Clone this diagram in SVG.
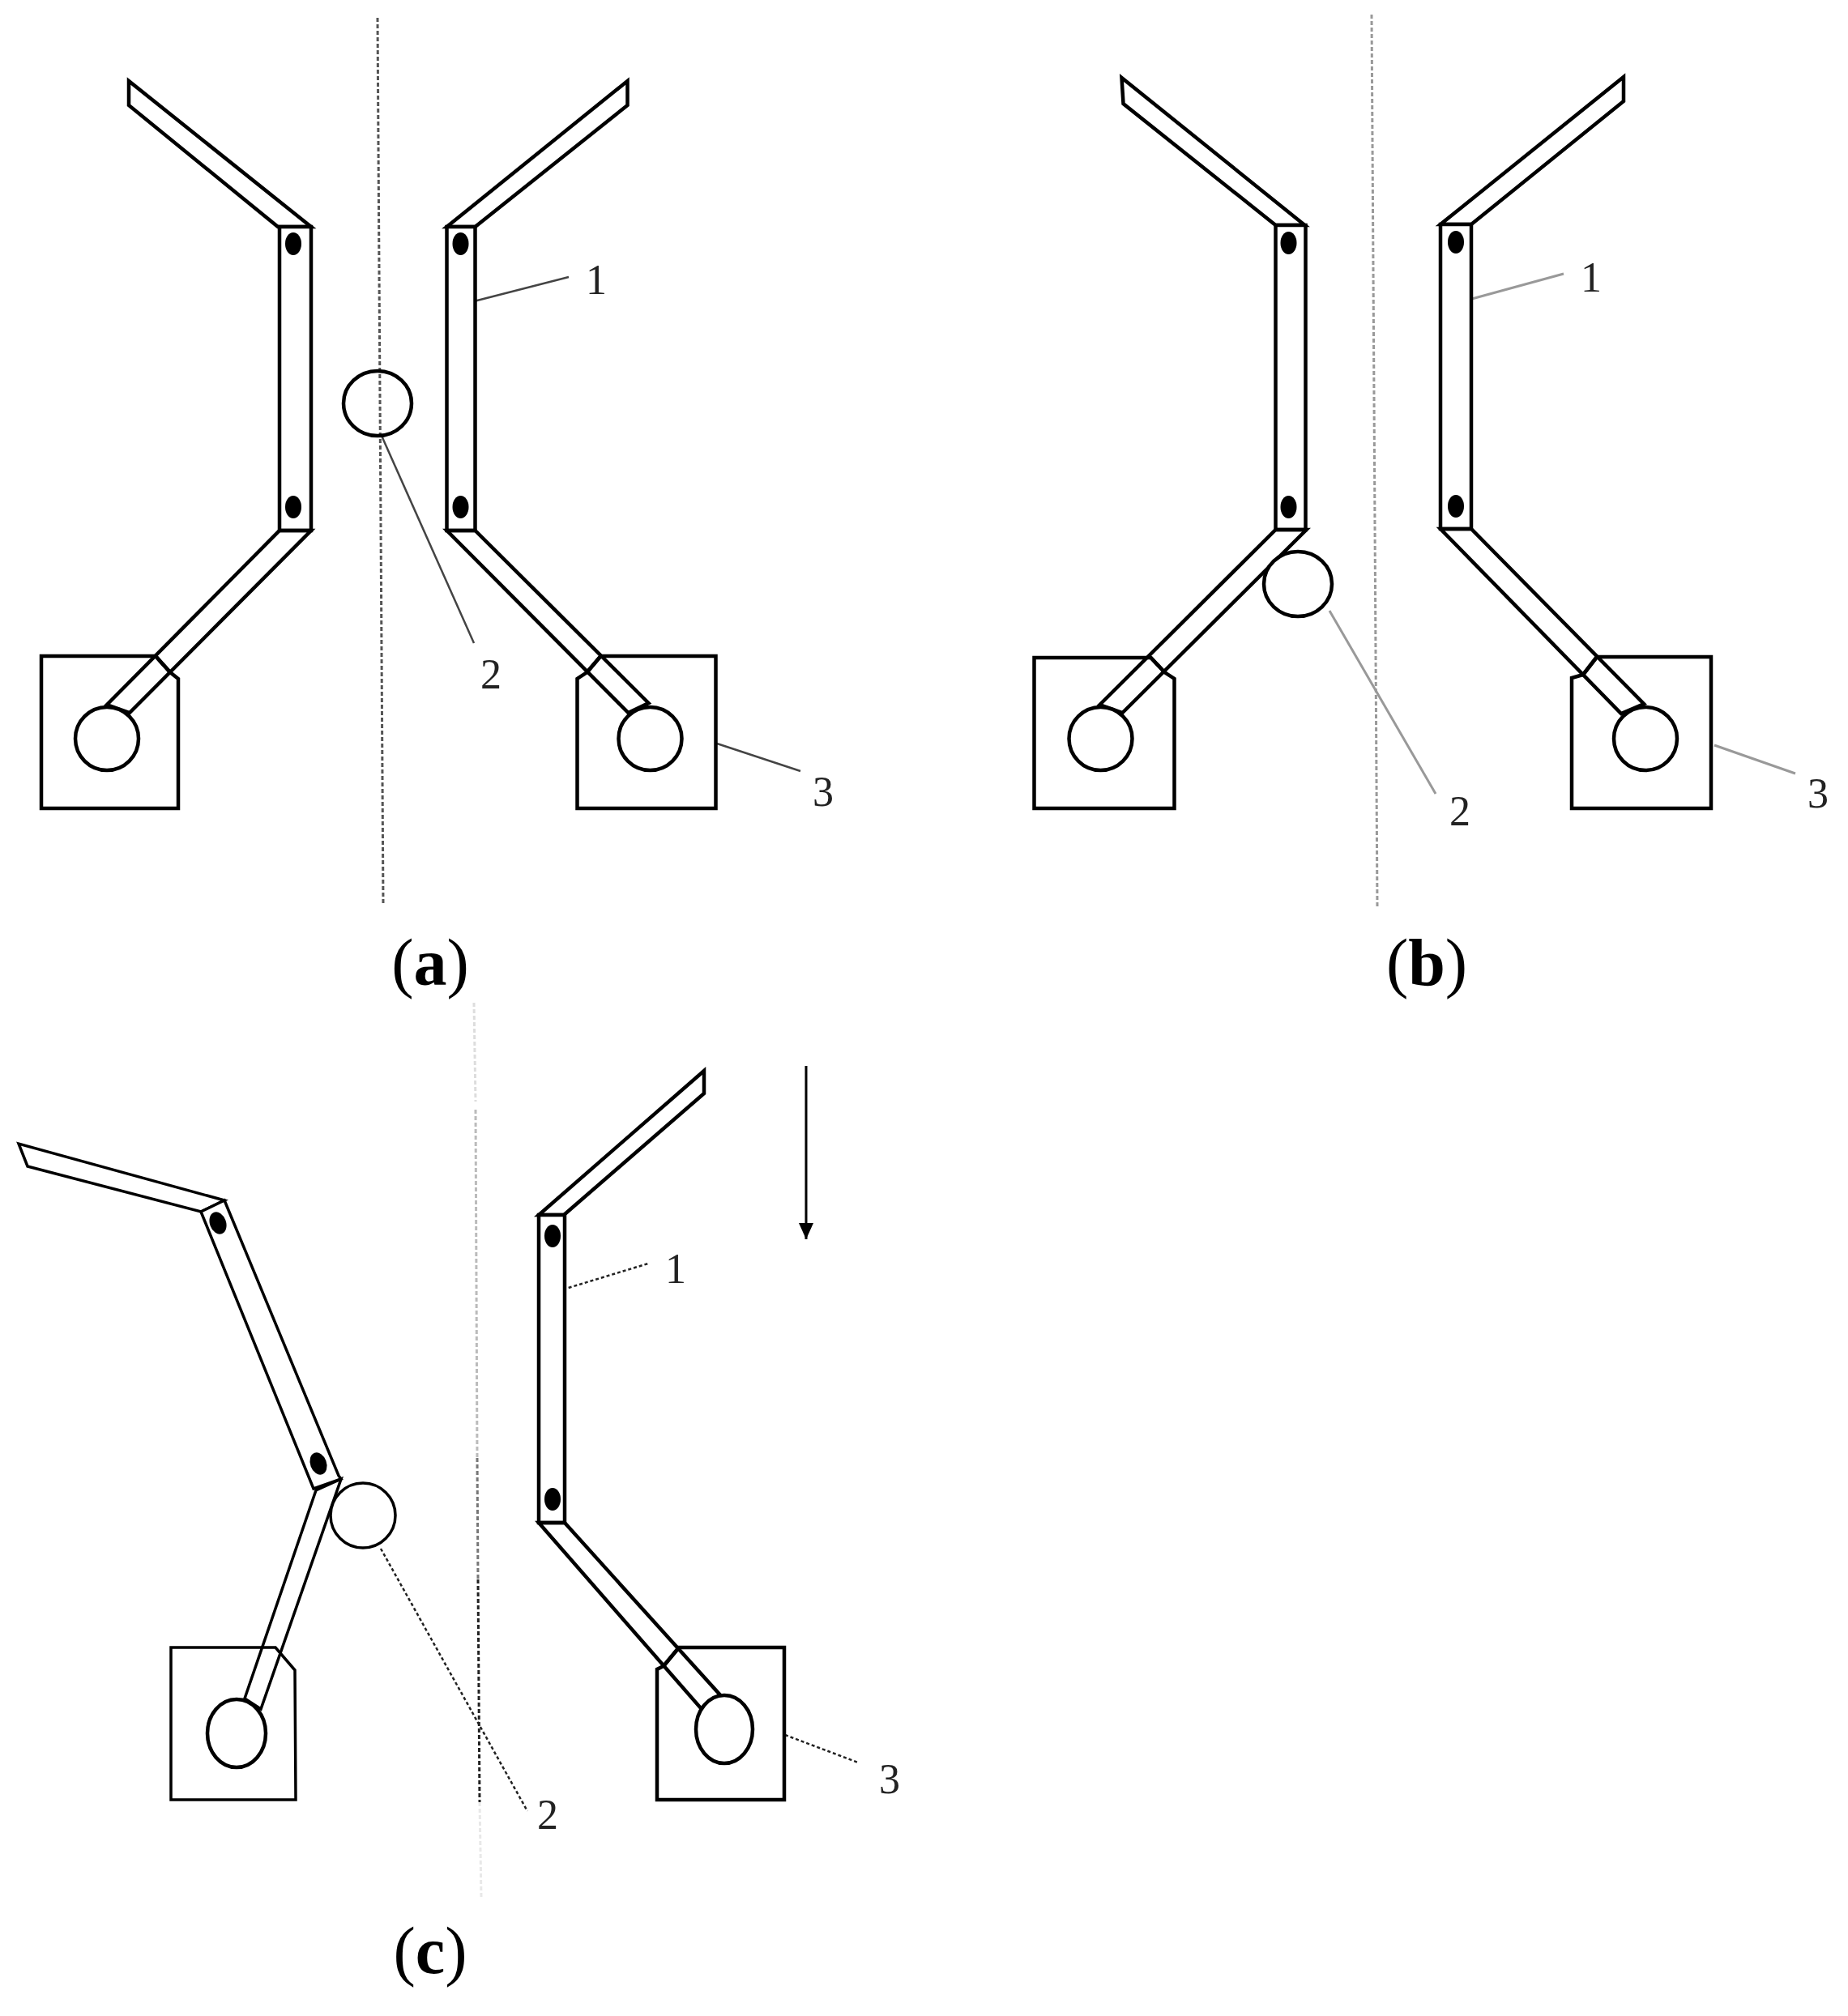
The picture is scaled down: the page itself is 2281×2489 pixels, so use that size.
<svg xmlns="http://www.w3.org/2000/svg" width="2281" height="2489" viewBox="0 0 2281 2489">
<defs>
<marker id="ah" markerUnits="userSpaceOnUse" markerWidth="20" markerHeight="18" refX="20" refY="9" orient="auto" viewBox="0 0 20 18"><path d="M0 0L20 9L0 18Z" fill="#000"/></marker>
</defs>
<style>
.s{fill:#fff;stroke:#000;stroke-width:4.5;stroke-linejoin:miter}
.n{fill:none;stroke:#000;stroke-width:4.5}
.o{fill:none;stroke:#000;stroke-width:4.5}
.d{fill:#000}
.axis{fill:none;stroke:#555;stroke-width:3;stroke-dasharray:5 3}
.lead{fill:none;stroke:#444;stroke-width:2.5}
.leadg{fill:none;stroke:#999;stroke-width:3}
.leadd{fill:none;stroke:#222;stroke-width:2.5;stroke-dasharray:4 3}
.t{font-family:"Liberation Serif",serif;font-size:52px;text-anchor:middle;fill:#222}
.cap{font-family:"Liberation Serif",serif;font-size:82px;text-anchor:middle;fill:#000}
.cap tspan{font-weight:bold}
</style>
<rect width="2281" height="2489" fill="#fff"/>

<g id="connectors">
<path class="axis" d="M466 22L473 1118"/>
<path class="lead" d="M585 372L702 342"/>
<path class="lead" d="M471 538L585 794"/>
<path class="lead" d="M885 918L988 952"/>
<path class="axis" style="stroke:#999" d="M1693 18L1700 1120"/>
<path class="leadg" d="M1813 370L1930 338"/>
<path class="leadg" d="M1641 754L1772 980"/>
<path class="leadg" d="M2116 920L2216 955"/>
<path class="axis" style="stroke:#ddd" d="M585 1238L587 1360"/>
<path class="axis" style="stroke:#bbb" d="M587 1370L589 1800"/>
<path class="axis" style="stroke:#777" d="M589 1800L590 1950"/>
<path class="axis" style="stroke:#222" d="M590 1950L592 2225"/>
<path class="axis" style="stroke:#e8e8e8" d="M592 2225L594 2342"/>
<path class="leadd" d="M695 1592L800 1560"/>
<path class="leadd" d="M470 1912L651 2236"/>
<path class="leadd" d="M969 2142L1059 2176"/>
<path d="M995 1316L995 1530" fill="none" stroke="#000" stroke-width="3" marker-end="url(#ah)"/>
</g>

<g id="a-left" transform="translate(-2 -2)">
<path class="s" d="M53 812L194 812L212 832L222 840L222 1000L53 1000Z"/>
<path class="s" d="M161 102L161 132L345 282L386 282Z"/>
<rect class="s" x="347" y="282" width="39" height="375"/>
<path class="n" d="M347 657L386 657L162 882L134 872Z"/>
<path class="o" d="M194 812L212 832"/>
<ellipse class="d" cx="364" cy="303" rx="10" ry="14"/>
<ellipse class="d" cx="364" cy="628" rx="10" ry="14"/>
<circle class="s" cx="134" cy="914" r="39"/>
</g>
<g id="a-right" transform="translate(-3.5 -2)">
<path class="s" d="M887 812L745 812L728 832L716 840L716 1000L887 1000Z"/>
<path class="s" d="M778 102L778 132L590 282L555 282Z"/>
<rect class="s" x="555" y="282" width="35" height="375"/>
<path class="n" d="M555 657L590 657L804 870L779 882Z"/>
<path class="o" d="M745 812L728 832"/>
<ellipse class="d" cx="572" cy="303" rx="10" ry="14"/>
<ellipse class="d" cx="572" cy="628" rx="10" ry="14"/>
<circle class="s" cx="806" cy="914" r="39"/>
</g>
<g id="a-ball"><ellipse class="n" cx="466" cy="498" rx="42" ry="40"/></g>

<g id="b-left" transform="translate(-1.5 -2)">
<path class="s" d="M1278 814L1422 814L1439 832L1451 840L1451 1000L1278 1000Z"/>
<path class="s" d="M1386 98L1388 130L1576 280L1612 280Z"/>
<rect class="s" x="1576" y="280" width="37" height="376"/>
<path class="n" d="M1576 656L1614 656L1387 882L1359 872Z"/>
<path class="o" d="M1422 814L1439 832"/>
<ellipse class="d" cx="1592" cy="302" rx="10" ry="14"/>
<ellipse class="d" cx="1592" cy="628" rx="10" ry="14"/>
<circle class="s" cx="1360" cy="914" r="39"/>
</g>
<g id="b-right" transform="translate(-3 -3)">
<path class="s" d="M2115 814L1974 814L1957 836L1943 840L1943 1001L2115 1001Z"/>
<path class="s" d="M2007 98L2007 128L1819 280L1781 280Z"/>
<rect class="s" x="1781" y="280" width="38" height="376"/>
<path class="n" d="M1781 656L1819 656L2032 872L2004 884Z"/>
<path class="o" d="M1974 814L1957 836"/>
<ellipse class="d" cx="1800" cy="302" rx="10" ry="14"/>
<ellipse class="d" cx="1800" cy="628" rx="10" ry="14"/>
<circle class="s" cx="2034" cy="915" r="39"/>
</g>
<g id="b-ball"><ellipse class="s" cx="1602" cy="721" rx="42" ry="40"/></g>

<g id="c-left">
<path class="s" style="stroke-width:3.5" d="M211 2034L340 2034L364 2062L365 2222L211 2222Z"/>
<path class="s" style="stroke-width:3.5" d="M23 1412L34 1440L248 1496L277 1482Z"/>
<path class="s" style="stroke-width:3.5" d="M248 1496L277 1482L418 1822L421 1826L387 1838Z"/>
<path class="n" style="stroke-width:3.5" d="M390 1840L421 1826L322 2110L302 2097Z"/>
<ellipse class="d" cx="269" cy="1510" rx="10" ry="14" transform="rotate(-20 269 1510)"/>
<ellipse class="d" cx="393" cy="1807" rx="10" ry="14" transform="rotate(-20 393 1807)"/>
<ellipse class="s" cx="292" cy="2140" rx="36" ry="42"/>
</g>
<g id="c-right">
<path class="s" d="M968 2034L838 2034L819 2057L811 2061L811 2222L968 2222Z"/>
<path class="s" d="M869 1322L869 1350L696 1500L665 1500Z"/>
<rect class="s" x="665" y="1500" width="32" height="380"/>
<path class="n" d="M665 1880L697 1880L891 2095L865 2109Z"/>
<path class="o" d="M838 2034L819 2057"/>
<ellipse class="d" cx="682" cy="1526" rx="10" ry="14"/>
<ellipse class="d" cx="682" cy="1851" rx="10" ry="14"/>
<ellipse class="s" cx="894" cy="2135" rx="35" ry="42"/>
</g>
<g id="c-ball"><circle class="s" style="stroke-width:3.5" cx="448" cy="1871" r="40"/></g>

<g id="labels">
<text class="t" x="736" y="363">1</text>
<text class="t" x="606" y="850">2</text>
<text class="t" x="1016" y="995">3</text>
<text class="cap" x="531" y="1216">(<tspan>a</tspan>)</text>
<text class="t" x="1964" y="360">1</text>
<text class="t" x="1802" y="1019">2</text>
<text class="t" x="2244" y="997">3</text>
<text class="cap" x="1761" y="1216">(<tspan>b</tspan>)</text>
<text class="t" x="834" y="1584">1</text>
<text class="t" x="676" y="2258">2</text>
<text class="t" x="1098" y="2214">3</text>
<text class="cap" x="531" y="2436">(<tspan>c</tspan>)</text>
</g>
</svg>
